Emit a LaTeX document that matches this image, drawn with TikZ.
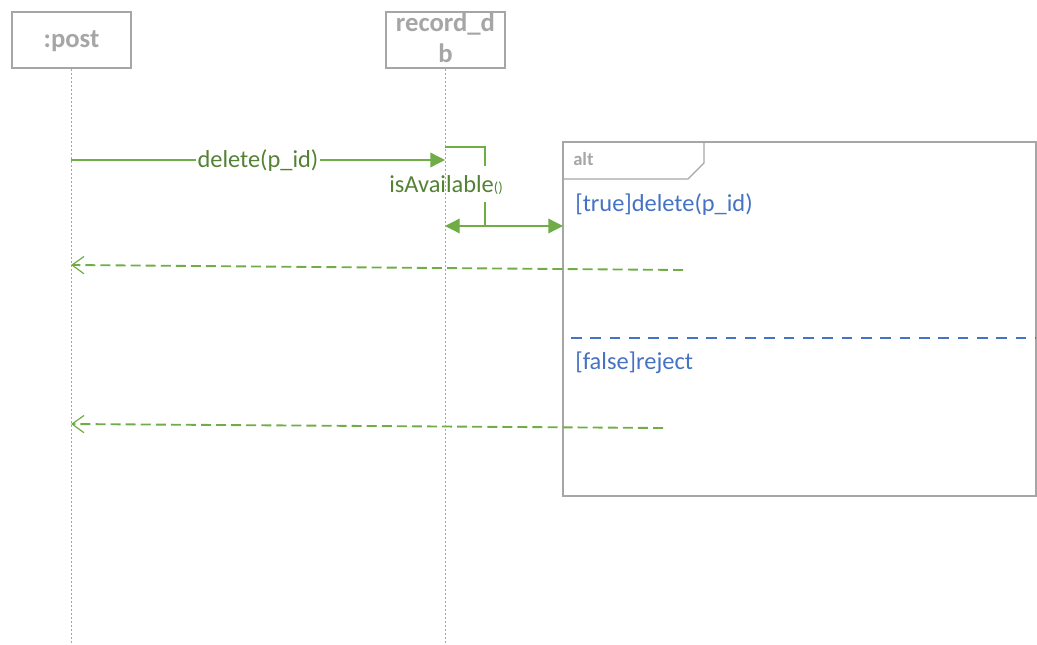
\documentclass[tikz,border=0pt]{standalone}
\usepackage{fontspec}
\setmainfont{Carlito}
\usetikzlibrary{arrows.meta}
\definecolor{boxgray}{HTML}{A6A6A6}
\definecolor{msggreen}{HTML}{70AD47}
\definecolor{txtgreen}{HTML}{548235}
\definecolor{guardblue}{HTML}{4472C4}
\tikzset{
  lifebox/.style={draw=boxgray, line width=1pt, fill=white, minimum width=119*0.75pt,
    minimum height=56*0.75pt, inner sep=0pt},
  boxtext/.style={font=\fontsize{20}{23.25}\selectfont\bfseries, text=boxgray,
    align=center, anchor=base, inner sep=0pt},
  lifeline/.style={draw=boxgray, line width=0.5pt, dash pattern=on 2pt off 1pt},
  callmsg/.style={draw=msggreen, line width=1pt, -{Triangle[length=11pt,width=11pt]}},
  bothmsg/.style={draw=msggreen, line width=1pt, {Triangle[length=11pt,width=11pt]}-{Triangle[length=11pt,width=11pt]}},
  selfline/.style={draw=msggreen, line width=1pt},
  replymsg/.style={draw=msggreen, line width=1.4pt, dash pattern=on 7.5pt off 3.8pt,
    -{Straight Barb[length=9pt,width=13pt,line width=0.9pt]}},
  msglabel/.style={font=\fontsize{18.3}{20}\selectfont, text=txtgreen, fill=white, inner sep=1pt},
  guard/.style={font=\fontsize{18.3}{20}\selectfont, text=guardblue, anchor=base west, inner sep=0pt},
  framebox/.style={draw=boxgray, line width=1pt},
}
\begin{document}
\begin{tikzpicture}[x=0.75pt, y=-0.75pt]
\useasboundingbox (0,0) rectangle (1037,645);

% participants
\node[lifebox] (post) at (71.5,40) {};
\node[boxtext] (postname) at (71.5,48) {:post};
\node[lifebox] (db) at (445.5,40) {};
\node[boxtext] (dbname) at (445.5,63) {record\_d\\b};

% lifelines
\coordinate (postend) at (71,645);
\coordinate (dbend) at (445,645);
\draw[lifeline] (post.south) -- (post.south |- postend);
\draw[lifeline] (db.south) -- (db.south |- dbend);

% alt combined fragment
\coordinate (fNW) at (563,142);
\coordinate (fSE) at (1036,496);
\draw[framebox] (fNW) rectangle (fSE);
\draw[framebox] (563,179) -- (688,179) -- (704,163) -- (704,142);
\node[font=\fontsize{14}{16}\selectfont\bfseries, text=boxgray, anchor=base west, inner sep=0pt] (altlab) at (573,166) {alt};
\node[guard] (g1) at (575,212) {[true]delete(p\_id)};
\coordinate (sepL) at (571,338);
\draw[draw=guardblue, line width=0.9pt, dash pattern=on 8pt off 6.5pt] (sepL) -- (sepL -| fSE);
\node[guard] (g2) at (575,369) {[false]reject};

% delete(p_id) call
\coordinate (c1) at (71,160);
\coordinate (c1e) at (445,160);
\draw[callmsg] (c1) -- (c1e) node[midway, msglabel, anchor=base, yshift=-6pt] (dellab) {delete(p\_id)};

% isAvailable() self call
\coordinate (s1) at (445,147);
\coordinate (s2) at (445,226);
\coordinate (sx) at (485,0);
\coordinate (brk1) at (485,166);
\coordinate (brk2) at (485,202);
\node[font=\fontsize{18.3}{20}\selectfont, text=txtgreen, anchor=base west, inner sep=0pt] (avlab) at (389,193) {isAvailable{\fontsize{11}{12}\selectfont()}};
\draw[selfline] (s1) -- (s1 -| sx) -- (brk1);
\draw[selfline] (brk2) -- (s2 -| sx);
\coordinate (fr) at (563,226);
\draw[bothmsg] (s2) -- (fr);

% replies
\coordinate (r1) at (683,270);
\coordinate (r1e) at (71,265);
\draw[replymsg] (r1) -- (r1e);
\coordinate (r2) at (663,428);
\coordinate (r2e) at (71,424);
\draw[replymsg] (r2) -- (r2e);
\end{tikzpicture}
\end{document}
